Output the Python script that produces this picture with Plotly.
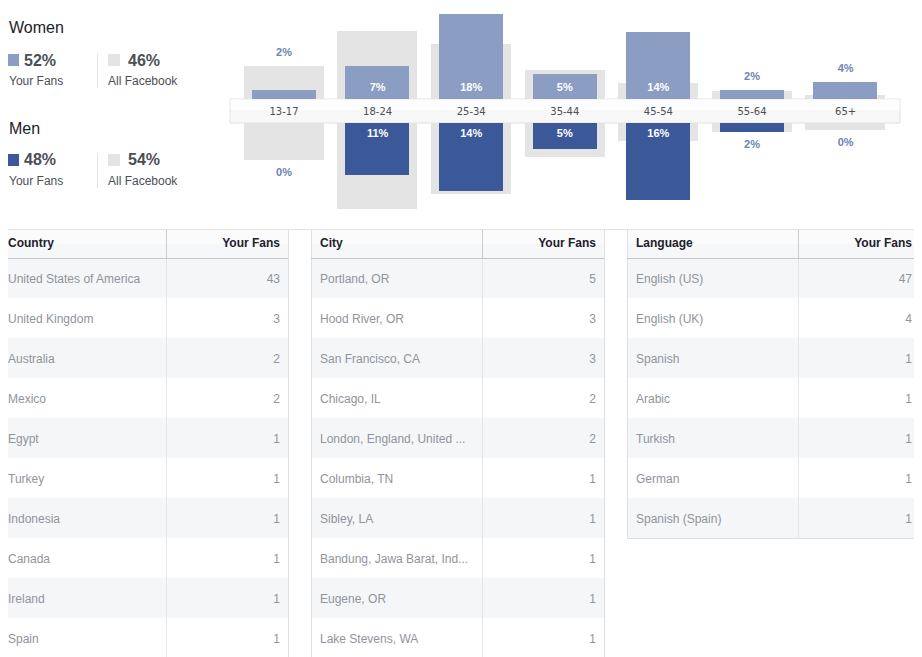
import plotly.graph_objects as go

# ---------------- data ----------------
age_groups = ["13-17", "18-24", "25-34", "35-44", "45-54", "55-64", "65+"]
women_fans = [1.8, 7.0, 17.8, 5.3, 14.2, 1.8, 3.5]
women_all_fb = [7.0, 14.3, 11.6, 6.1, 3.4, 1.7, 0.8]
men_fans = [0.0, 10.9, 14.4, 5.4, 16.2, 1.9, 0.0]
men_all_fb = [7.8, 18.1, 14.9, 7.2, 3.8, 1.9, 1.5]

gender_names = ["Women", "Men"]
gender_fans_pct = [52, 48]
gender_all_fb_pct = [46, 54]

countries = ["United States of America", "United Kingdom", "Australia", "Mexico", "Egypt",
             "Turkey", "Indonesia", "Canada", "Ireland", "Spain"]
country_fans = [43, 3, 2, 2, 1, 1, 1, 1, 1, 1]

cities = ["Portland, OR", "Hood River, OR", "San Francisco, CA", "Chicago, IL",
          "London, England, United ...", "Columbia, TN", "Sibley, LA",
          "Bandung, Jawa Barat, Ind...", "Eugene, OR", "Lake Stevens, WA"]
city_fans = [5, 3, 3, 2, 2, 1, 1, 1, 1, 1]

languages = ["English (US)", "English (UK)", "Spanish", "Arabic", "Turkish", "German", "Spanish (Spain)"]
language_fans = [47, 4, 1, 1, 1, 1, 1]

# ---------------- style / geometry ----------------
C_WOMEN = "#8b9dc3"
C_MEN = "#3b5998"
C_GRAY = "#e4e4e4"
C_LABEL_OUT = "#6d84b4"
FONT = "Liberation Sans, Arial, sans-serif"

# the page body has an 8px margin: the figure is drawn from (8, 8)
OFF = 8
PAGE_W, PAGE_H = 922, 657
W, H = PAGE_W - OFF, PAGE_H - OFF


def px(x):
    return min(max((x - OFF) / W, 0), 1)


def py(y):
    return min(max(1 - (y - OFF) / H, 0), 1)


PX_PER_PCT = 4.75
BASE_W, BASE_M = 99, 123   # page rows of women / men baselines
BOTTOM = 229               # bottom of the demographics block

fig = go.Figure()
xs = list(range(len(age_groups)))

# ---------------- age / gender bars ----------------
fig.add_trace(go.Bar(x=xs, y=women_all_fb, width=0.855, marker=dict(color=C_GRAY, line=dict(width=0)),
                     xaxis="x", yaxis="y", hoverinfo="skip"))
fig.add_trace(go.Bar(x=xs, y=women_fans, width=0.684, marker=dict(color=C_WOMEN, line=dict(width=0)),
                     xaxis="x", yaxis="y", hoverinfo="skip"))
fig.add_trace(go.Bar(x=xs, y=men_all_fb, width=0.855, marker=dict(color=C_GRAY, line=dict(width=0)),
                     xaxis="x", yaxis="y2", hoverinfo="skip"))
fig.add_trace(go.Bar(x=xs, y=men_fans, width=0.684, marker=dict(color=C_MEN, line=dict(width=0)),
                     xaxis="x", yaxis="y2", hoverinfo="skip"))


def value_labels(fans, allfb, axis):
    ys, txt, cols = [], [], []
    for f, a in zip(fans, allfb):
        r = int(f + 0.5)
        txt.append("<b>%d%%</b>" % r)
        if r >= 5:
            ys.append(2.3)
            cols.append("white")
        else:
            ys.append(max(f, a) + 2.7)
            cols.append(C_LABEL_OUT)
    fig.add_trace(go.Scatter(x=xs, y=ys, text=txt, mode="text", textposition="middle center",
                             textfont=dict(color=cols, size=11, family=FONT), cliponaxis=False,
                             xaxis="x", yaxis=axis, hoverinfo="skip"))


value_labels(women_fans, women_all_fb, "y")
value_labels(men_fans, men_all_fb, "y2")

shapes = []
annotations = []

# label band between the two halves
shapes.append(dict(type="rect", xref="paper", yref="paper", x0=px(230), x1=px(900), y0=py(BASE_M), y1=py(BASE_W),
                   fillcolor="#f8f8f8", line=dict(color="#e2e2e2", width=1), layer="below"))
shapes.append(dict(type="rect", xref="paper", yref="paper", x0=px(230.5), x1=px(899.5), y0=py(110),
                   y1=py(BASE_W + 0.5), fillcolor="#fdfdfd", line=dict(width=0), layer="below"))

# gender summary blocks
for gi, name in enumerate(gender_names):
    top = gi * 100
    annotations.append(dict(text=name, x=px(4), y=py(top + 28), xref="paper", yref="paper", xanchor="left",
                            yanchor="middle", showarrow=False, borderpad=0,
                            font=dict(size=16, color="#1d2129", family=FONT)))
    sq_col = C_WOMEN if gi == 0 else C_MEN
    shapes.append(dict(type="rect", xref="paper", yref="paper", x0=px(4), x1=px(19), y0=py(top + 66),
                       y1=py(top + 54), fillcolor=sq_col, line=dict(width=0)))
    shapes.append(dict(type="rect", xref="paper", yref="paper", x0=px(108), x1=px(120), y0=py(top + 66),
                       y1=py(top + 54), fillcolor=C_GRAY, line=dict(width=0)))
    shapes.append(dict(type="line", xref="paper", yref="paper", x0=px(97.5), x1=px(97.5), y0=py(top + 88),
                       y1=py(top + 54), line=dict(color="#e5e5e5", width=1)))
    for xpos, val in ((23, gender_fans_pct[gi]), (127, gender_all_fb_pct[gi])):
        annotations.append(dict(text="<b>%d%%</b>" % val, x=px(xpos), y=py(top + 60), xref="paper",
                                yref="paper", xanchor="left", yanchor="middle", showarrow=False, borderpad=0,
                                font=dict(size=16, color="#4b4f56", family=FONT)))
    for xpos, lab in ((4, "Your Fans"), (107, "All Facebook")):
        annotations.append(dict(text=lab, x=px(xpos), y=py(top + 81), xref="paper", yref="paper",
                                xanchor="left", yanchor="middle", showarrow=False, borderpad=0,
                                font=dict(size=12, color="#4b4f56", family=FONT)))

# ---------------- tables (rows drawn as horizontal bars on pixel-scaled axes) ----------------
ROW_H = 40
HEAD_H = 29
TABLE_SPAN = PAGE_H - BOTTOM
TEXT_DY = 1.5

layout_axes = {}
tables = [
    # axis id, left edge, column split, right edge, header, names, values
    ("3", -5, 166, 288, "Country", countries, country_fans),
    ("4", 311, 482, 604, "City", cities, city_fans),
    ("5", 627, 798, 920, "Language", languages, language_fans),
]

for ax_id, x0, split, x1, head, names, vals in tables:
    n = len(names)
    xa, ya = "x" + ax_id, "y3"
    row_y = [HEAD_H + ROW_H * i + ROW_H / 2 for i in range(n)]
    text_y = [r + TEXT_DY for r in row_y]
    fills = ["#f5f6f7" if i % 2 == 0 else "#ffffff" for i in range(n)]
    # header band (light gradient imitation: two tones)
    fig.add_trace(go.Bar(orientation="h", y=[HEAD_H / 2], x=[x1 - x0], base=[x0], width=[HEAD_H],
                         marker=dict(color="#f6f7f9", line=dict(width=0)), xaxis=xa, yaxis=ya, hoverinfo="skip"))
    fig.add_trace(go.Bar(orientation="h", y=[HEAD_H / 4], x=[x1 - x0], base=[x0], width=[HEAD_H / 2],
                         marker=dict(color="#fbfbfc", line=dict(width=0)), xaxis=xa, yaxis=ya, hoverinfo="skip"))
    # body rows
    fig.add_trace(go.Bar(orientation="h", y=row_y, x=[x1 - x0] * n, base=[x0] * n, width=[ROW_H] * n,
                         marker=dict(color=fills, line=dict(width=0)), xaxis=xa, yaxis=ya, hoverinfo="skip"))
    left_text = max(x0 + 9, 8)
    fig.add_trace(go.Scatter(x=[left_text], y=[HEAD_H / 2 + 0.5], text=["<b>%s</b>" % head], mode="text",
                             textposition="middle right", cliponaxis=False,
                             textfont=dict(size=12, color="#1d2129", family=FONT),
                             xaxis=xa, yaxis=ya, hoverinfo="skip"))
    fig.add_trace(go.Scatter(x=[x1 - 8], y=[HEAD_H / 2 + 0.5], text=["<b>Your Fans</b>"], mode="text",
                             textposition="middle left", cliponaxis=False,
                             textfont=dict(size=12, color="#1d2129", family=FONT),
                             xaxis=xa, yaxis=ya, hoverinfo="skip"))
    fig.add_trace(go.Scatter(x=[left_text] * n, y=text_y, text=names, mode="text",
                             textposition="middle right", cliponaxis=False,
                             textfont=dict(size=12, color="#90949c", family=FONT),
                             xaxis=xa, yaxis=ya, hoverinfo="skip"))
    fig.add_trace(go.Scatter(x=[x1 - 8] * n, y=text_y, text=[str(v) for v in vals], mode="text",
                             textposition="middle left", cliponaxis=False,
                             textfont=dict(size=12, color="#90949c", family=FONT),
                             xaxis=xa, yaxis=ya, hoverinfo="skip"))
    layout_axes["xaxis" + ax_id] = dict(domain=[px(max(x0, OFF)), px(x1 + 1)], range=[max(x0, OFF), x1 + 1],
                                        anchor="y3", visible=False, fixedrange=True)

    bottom = min(PAGE_H, BOTTOM + HEAD_H + ROW_H * n)
    for xv, col in ((x0, "#dddfe2"), (x1, "#dddfe2"), (split, "#e5e6e9")):
        if xv >= OFF:
            shapes.append(dict(type="line", xref="paper", yref="paper", x0=px(xv + 0.5), x1=px(xv + 0.5),
                               y0=py(bottom), y1=py(BOTTOM), line=dict(color=col, width=1), layer="above"))
    shapes.append(dict(type="line", xref="paper", yref="paper", x0=px(split + 0.5), x1=px(split + 0.5),
                       y0=py(BOTTOM + HEAD_H), y1=py(BOTTOM), line=dict(color="#c9ccd1", width=1), layer="above"))
    shapes.append(dict(type="line", xref="paper", yref="paper", x0=px(x0), x1=px(x1),
                       y0=py(BOTTOM + HEAD_H + 0.5), y1=py(BOTTOM + HEAD_H + 0.5),
                       line=dict(color="#c4c7cc", width=1), layer="above"))
    if bottom < PAGE_H:
        shapes.append(dict(type="line", xref="paper", yref="paper", x0=px(x0), x1=px(x1 + 1),
                           y0=py(bottom + 0.5), y1=py(bottom + 0.5), line=dict(color="#dddfe2", width=1),
                           layer="above"))

# section separator + right page border
shapes.append(dict(type="line", xref="paper", yref="paper", x0=0, x1=px(921), y0=py(BOTTOM + 0.5),
                   y1=py(BOTTOM + 0.5), line=dict(color="#e3e3e3", width=1), layer="above"))
shapes.append(dict(type="line", xref="paper", yref="paper", x0=px(920.5), x1=px(920.5), y0=0, y1=1,
                   line=dict(color="#dddfe2", width=1), layer="above"))

fig.update_layout(
    width=W, height=H, margin=dict(l=0, r=0, t=0, b=0),
    paper_bgcolor="white", plot_bgcolor="rgba(0,0,0,0)",
    showlegend=False, barmode="overlay", bargap=0,
    font=dict(family=FONT),
    xaxis=dict(domain=[px(237.2), px(892.4)], range=[-0.5, 6.5], tickvals=xs, ticktext=age_groups,
               anchor="free", position=py(104), showgrid=False, zeroline=False, showline=False, ticks="",
               tickfont=dict(size=10, color="#4b4f56", family="DejaVu Sans, sans-serif"), fixedrange=True),
    yaxis=dict(domain=[py(BASE_W), 1], range=[0, (BASE_W - OFF) / PX_PER_PCT], visible=False, fixedrange=True),
    yaxis2=dict(domain=[py(BOTTOM), py(BASE_M)], range=[(BOTTOM - BASE_M) / PX_PER_PCT, 0], visible=False,
                anchor="x", fixedrange=True),
    yaxis3=dict(domain=[0, py(BOTTOM)], range=[TABLE_SPAN, 0], anchor="x3", visible=False, fixedrange=True),
    shapes=shapes, annotations=annotations,
    **layout_axes,
)

fig.write_html("out.html")
